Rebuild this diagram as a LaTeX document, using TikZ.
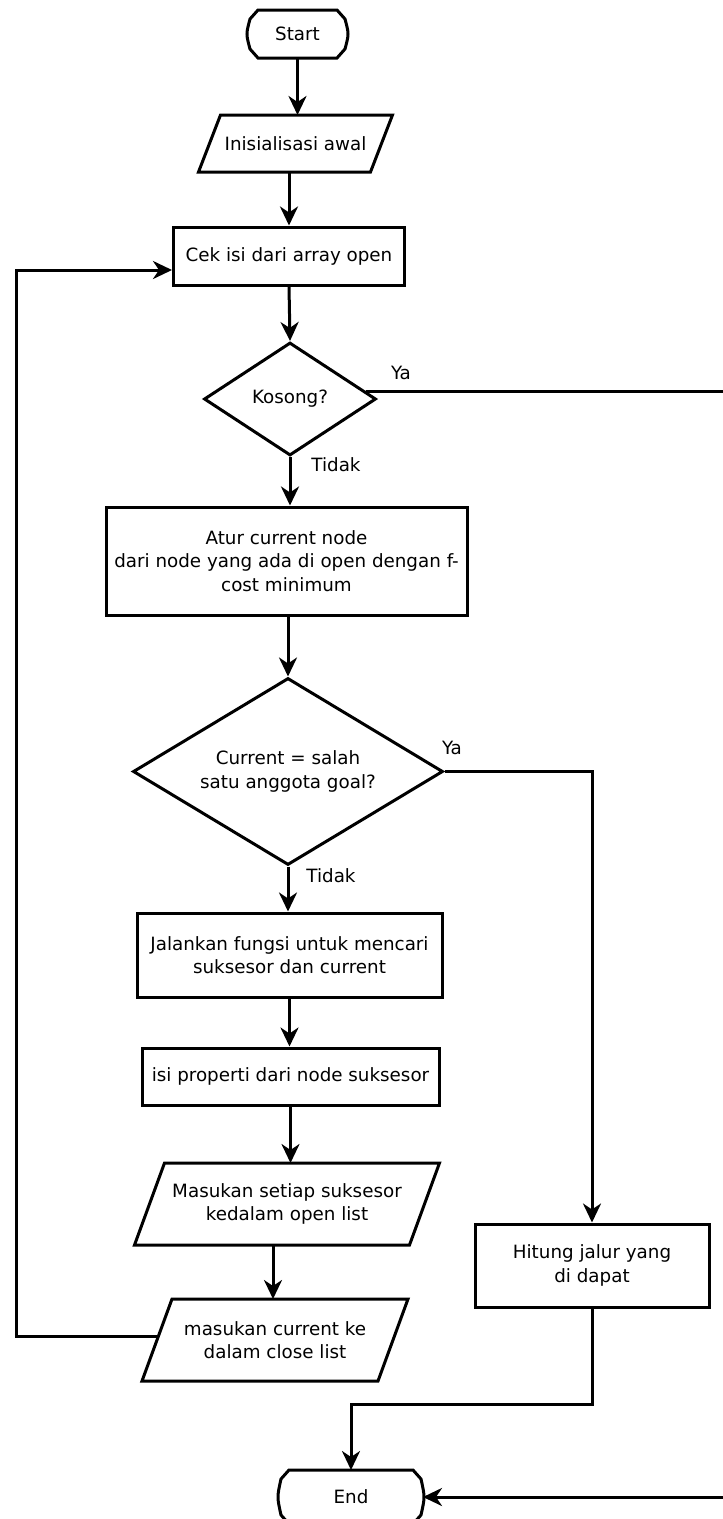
\documentclass[tikz,border=0pt]{standalone}
\usepackage{fontspec}
\setmainfont{DejaVu Sans}
\usetikzlibrary{shapes.geometric,arrows.meta}
\newcommand\myfs{\fontsize{18.3}{23.5}\selectfont}
\newcommand\mytermshape[1]{%
  \draw[lw] ([xshift=10pt]#1.north west) -- ([xshift=-10pt]#1.north east)
    -- ([xshift=-2pt,yshift=-9pt]#1.north east) .. controls ([xshift=2pt]#1.east) .. ([xshift=-2pt,yshift=9pt]#1.south east)
    -- ([xshift=-10pt]#1.south east) -- ([xshift=10pt]#1.south west)
    -- ([xshift=2pt,yshift=9pt]#1.south west) .. controls ([xshift=-2pt]#1.west) .. ([xshift=2pt,yshift=-9pt]#1.north west)
    -- cycle;}
\newcommand\myparashape[2]{%
  \draw[lw] ([xshift=#2]#1.north west) -- (#1.north east) -- ([xshift=-#2]#1.south east) -- (#1.south west) -- cycle;}
\tikzset{
  lw/.style={line width=3pt, line join=miter},
  procbox/.style={draw, lw, rectangle, align=center, inner sep=0pt, font=\myfs},
  decbox/.style={draw, lw, diamond, align=center, inner sep=0pt, font=\myfs},
  pbox/.style={rectangle, align=center, inner sep=0pt, outer sep=0pt, font=\myfs},
  tbox/.style={rectangle, align=center, inner sep=0pt, outer sep=0pt, font=\myfs},
  lbl/.style={font=\myfs, inner sep=0pt},
  arr/.style={lw, -{Stealth[length=19pt,width=18pt,inset=6pt]}},
}
\begin{document}
\begin{tikzpicture}[x=1pt,y=-1pt]
\useasboundingbox (0,0) rectangle (723,1519);
\node[tbox, minimum width=99pt, minimum height=48pt] (start) at (297.5,34) {Start};
\mytermshape{start}
\node[pbox, minimum width=194pt, minimum height=57pt] (ini) at (295.5,143.5) {Inisialisasi awal};
\myparashape{ini}{22pt}
\node[procbox, minimum width=231pt, minimum height=58pt] (cek) at (289,256) {Cek isi dari array open};
\node[decbox, aspect=1.52, minimum width=172pt, minimum height=113pt] (kos) at (290,399) {Kosong?};
\node[procbox, minimum width=361pt, minimum height=108pt] (atur) at (286.5,561) {Atur current node\\dari node yang ada di open dengan f-\\cost minimum};
\node[decbox, aspect=1.66, minimum width=310pt, minimum height=187pt] (cur) at (288,771.5) {Current = salah\\satu anggota goal?};
\node[procbox, minimum width=305pt, minimum height=84pt] (jal) at (289.5,955) {Jalankan fungsi untuk mencari\\suksesor dan current};
\node[procbox, minimum width=297pt, minimum height=57pt] (isi) at (290.5,1076.5) {isi properti dari node suksesor};
\node[pbox, minimum width=305pt, minimum height=82pt] (mas) at (287,1204) {Masukan setiap suksesor\\kedalam open list};
\myparashape{mas}{30pt}
\node[pbox, minimum width=266pt, minimum height=82pt] (mc) at (275,1340) {masukan current ke\\dalam close list};
\myparashape{mc}{30pt}
\node[procbox, minimum width=234pt, minimum height=83pt] (hit) at (592,1265.5) {Hitung jalur yang\\di dapat};
\node[tbox, minimum width=144pt, minimum height=54pt] (end) at (351,1497) {End};
\mytermshape{end}

\node[lbl] (ya1) at (401,373) {Ya};
\node[lbl] (td1) at (336,465) {Tidak};
\node[lbl] (ya2) at (452,748) {Ya};
\node[lbl] (td2) at (331,876) {Tidak};

\coordinate (lx) at (16,270);
\coordinate (jy) at (351,1404);
\coordinate (rc) at (740,1497);

\draw[arr] (start.south) -- (start.south |- ini.north);
\draw[arr] (cek.north |- ini.south) -- (cek.north);
\draw[arr] (cek.south) -- (kos.north);
\draw[arr] (kos.south) -- (kos.south |- atur.north);
\draw[arr] (cur.north |- atur.south) -- (cur.north);
\draw[arr] (cur.south) -- (cur.south |- jal.north);
\draw[arr] (jal.south) -- (jal.south |- isi.north);
\draw[arr] (isi.south) -- (isi.south |- mas.north);
\draw[arr] ([xshift=-14pt]mas.south) -- ([xshift=-14pt]mas.south |- mc.north);
\draw[arr] ([xshift=16pt,yshift=4pt]mc.west) -| (lx) -- ([yshift=-14pt]cek.west);
\draw[arr] (cur.east) -| (hit.north);
\draw[arr] (hit.south) |- (jy) -- (end.north);
\draw[arr] (kos.6) -| (rc) -- (end.east);
\end{tikzpicture}
\end{document}
